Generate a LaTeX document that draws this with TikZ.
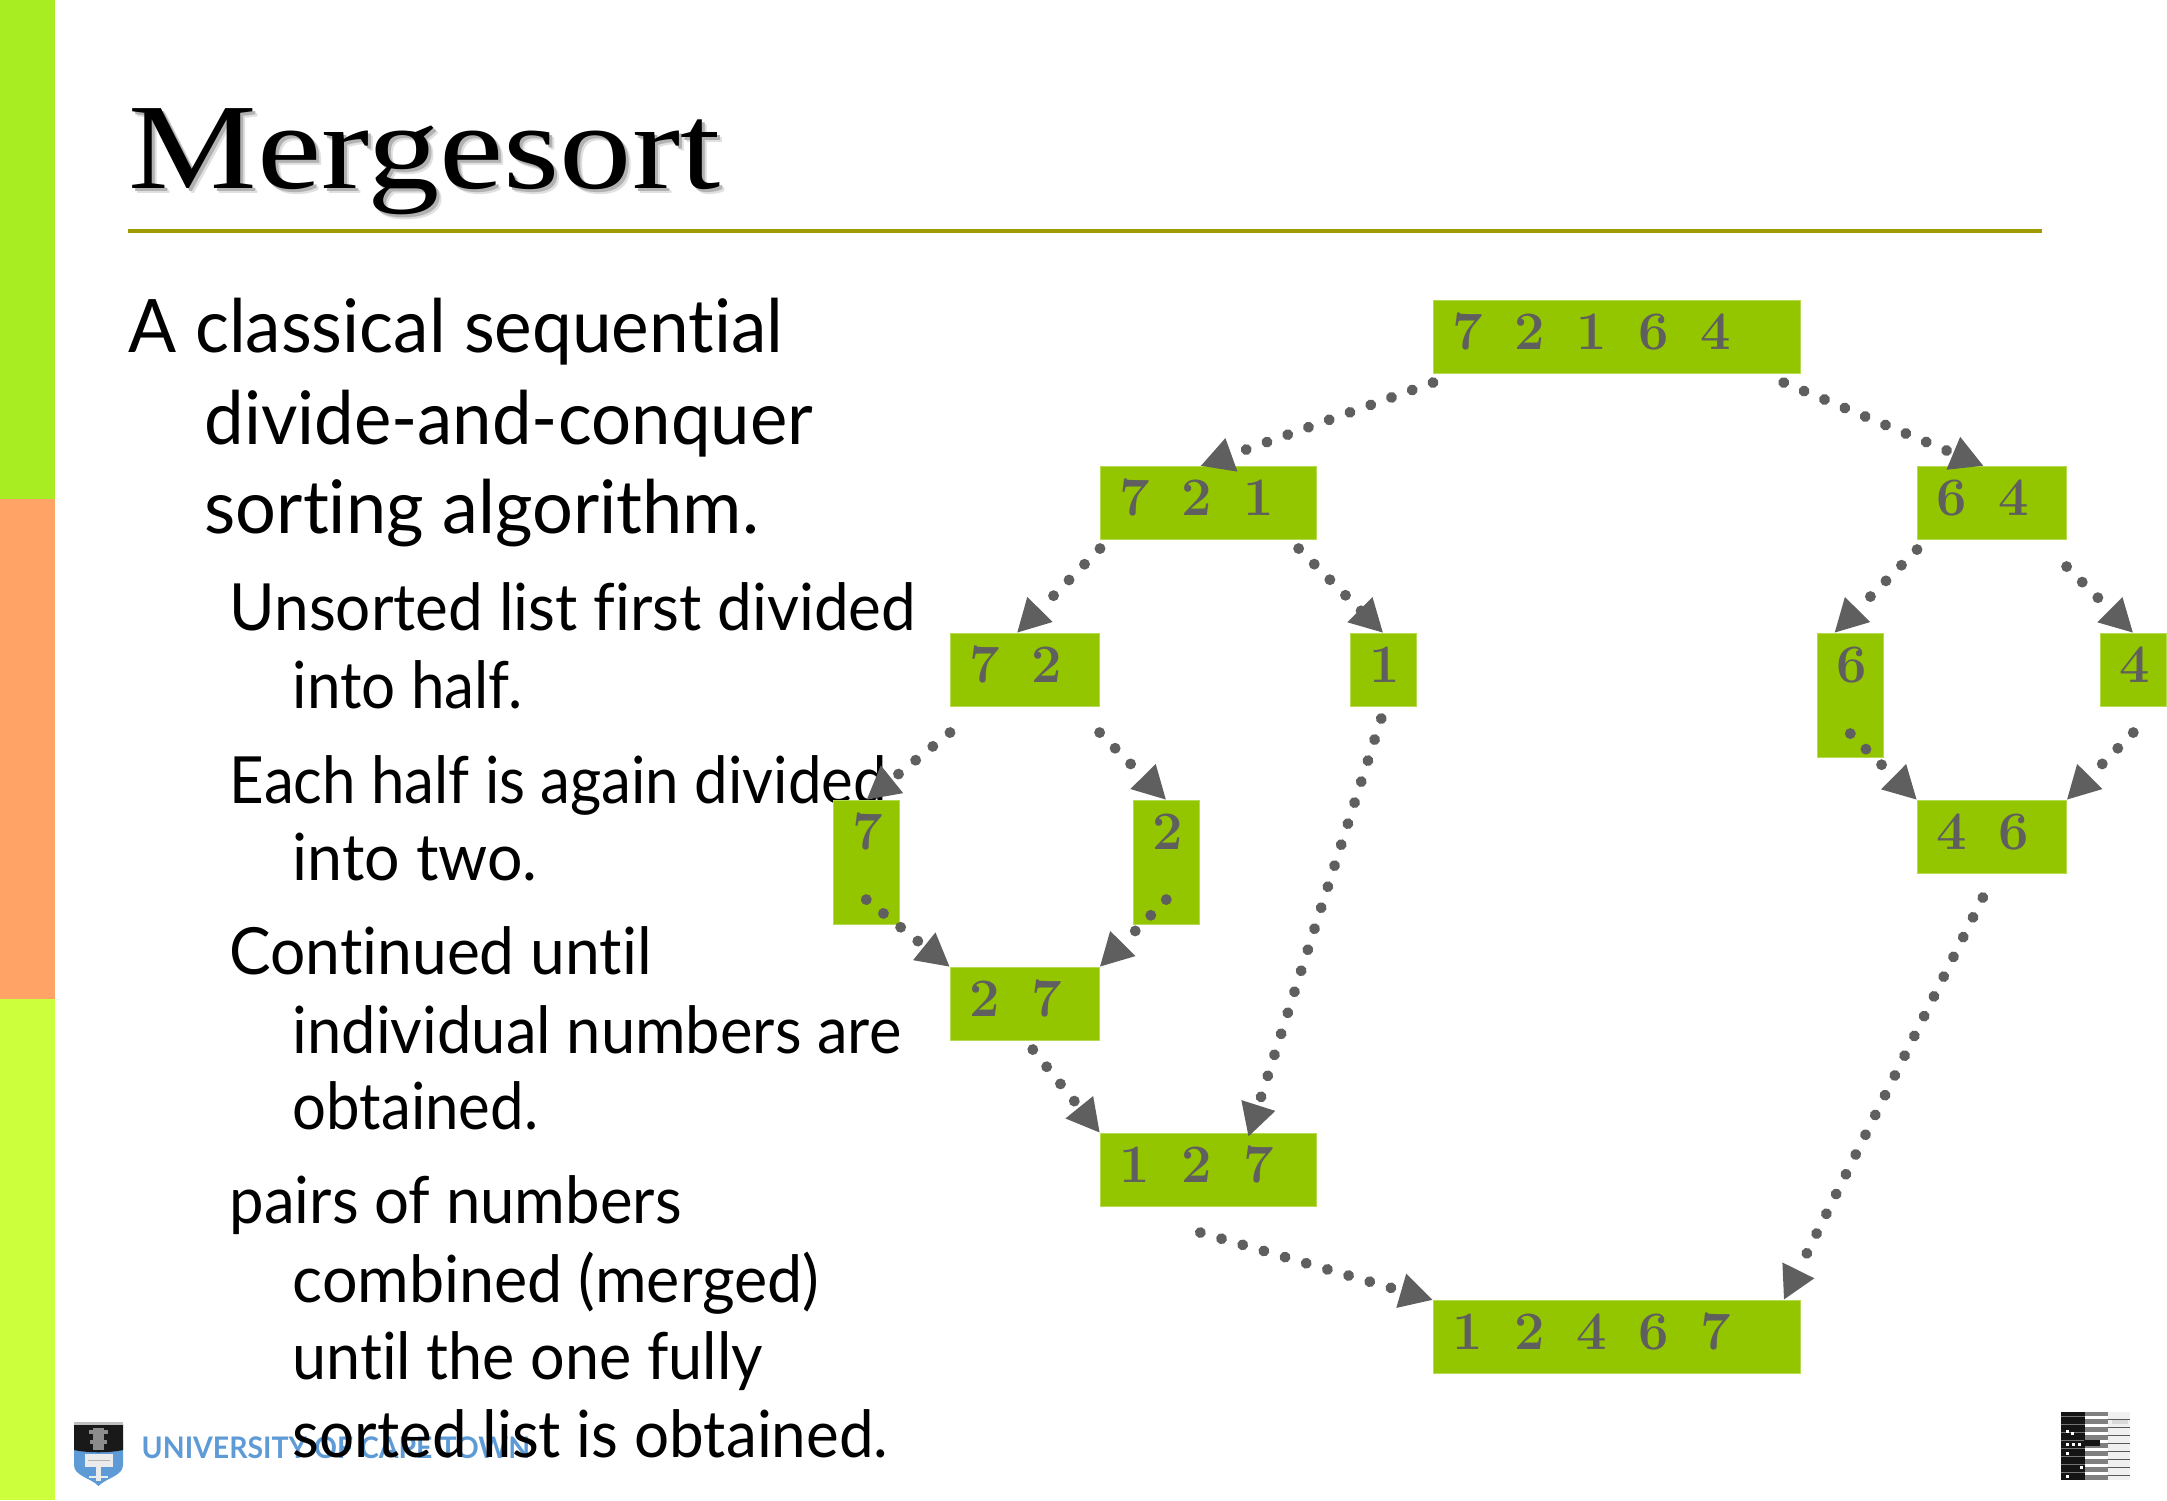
\documentclass[tikz,border=0pt]{standalone}
\usepackage{fontspec}
\usepackage{graphicx}
\usetikzlibrary{arrows.meta,calc}
\newfontfamily\titlefont[FakeStretch=1.185]{Liberation Serif}
\newfontfamily\bodyfont[FakeStretch=.957,Ligatures=NoCommon]{Lato}
\definecolor{barA}{HTML}{A8EC22}
\definecolor{barB}{HTML}{FFA466}
\definecolor{barC}{HTML}{CCFF3C}
\definecolor{boxgreen}{HTML}{94C600}
\definecolor{edgegreen}{HTML}{B5DC50}
\definecolor{ink}{HTML}{5F5F5F}
\definecolor{ruleol}{HTML}{A09B00}
\definecolor{uct}{HTML}{5E9BD6}
\newcommand\dgt[1]{\spaceskip=8.93pt\relax #1}
\newcommand\fitw[2]{\scalebox{#1}[1]{#2}}
\tikzset{
  numbox/.style={rectangle,anchor=north west,inner sep=0pt,outer sep=0pt,fill=boxgreen,draw=edgegreen,line width=.25pt},
  digittext/.style={anchor=base west,inner sep=0pt,text=ink,font=\fontsize{15.4}{18}\selectfont\bfseries\addfontfeature{FakeBold=1.2}},
  flow/.style={draw=ink,line width=3.1pt,line cap=round,dash pattern=on 0.01pt off 6.26pt,
    -{Triangle[length=9.4pt,width=9.4pt,fill=ink]}},
  lineA/.style={anchor=base west,inner sep=0pt,font=\bodyfont\fontsize{21}{25}\selectfont},
  lineB/.style={anchor=base west,inner sep=0pt,font=\bodyfont\fontsize{18.5}{22}\selectfont},
  titletext/.style={anchor=base west,inner sep=0pt,font=\titlefont\fontsize{34.7}{40}\selectfont},
}
\begin{document}
\begin{tikzpicture}[x=0.01cm,y=-0.01cm]
\useasboundingbox (0,0) rectangle (2167,1500);
% side bars and rule
\fill[barA] (0,0) rectangle (55,499);
\fill[barB] (0,499) rectangle (55,999);
\fill[barC] (0,999) rectangle (55,1500);
\fill[ruleol] (128,229) rectangle (2042,233);
% title
\node[titletext,text=black!12] (titleshadowb) at (133,194) {Mergesort};
\node[titletext,text=black!30] (titleshadow) at (131,192) {Mergesort};
\node[titletext] (title) at (128,189) {Mergesort};
% logo
\fill[uct] (74,1465) -- (74,1440) -- (123,1440) -- (123,1465) .. controls (123,1476) and (106,1478) .. (98.5,1486) .. controls (91,1478) and (74,1476) .. (74,1465) -- cycle;
\fill[black!90] (74,1424) -- (123,1424) -- (123,1450) .. controls (110,1453) and (87,1453) .. (74,1450) -- cycle;
\fill[black!25] (74,1422) rectangle (123,1425);
\fill[black!45] (93,1428) rectangle (104,1450);
\fill[black!45] (89,1430) rectangle (108,1434);
\fill[black!45] (90,1440) rectangle (107,1444);
\fill[black!8] (85,1454) rectangle (113,1467);
\fill[black!30] (88,1460) rectangle (110,1461);
\fill[black!8] (96,1467) rectangle (101,1481);
\fill[black!8] (89,1476) rectangle (108,1478);
\node[anchor=base west,inner sep=0pt,text=uct,font=\bodyfont\bfseries\fontsize{8.45}{10}\selectfont] (uctname) at (141,1458) {UNIVERSITY OF CAPE TOWN};
% seal bottom right
\fill[black!92] (2061,1412) rectangle (2085,1480);
\fill[black!50] (2085,1412) rectangle (2108,1480);
\fill[black!6] (2108,1412) rectangle (2130,1480);
\foreach \yy in {1416,1424,...,1476}{
  \fill[white] (2085,\yy) rectangle (2108,\yy+3);
  \fill[black!55] (2061,\yy) rectangle (2085,\yy+1);
  \fill[black!65] (2108,\yy+3) rectangle (2130,\yy+4);
}
\fill[black!92] (2084,1440) rectangle (2100,1446);
\fill[black!15] (2112,1420) rectangle (2128,1424);
\foreach \px/\py in {2066/1443,2071/1432,2066/1475,2066/1452,2072/1443,2078/1443,2066/1430,2080/1466}{
  \fill[white] (\px,\py) rectangle (\px+3,\py+3);
}
% body text
\node[lineA] (a1) at (128,352) {\fitw{1.006}{A classical sequential}};
\node[lineA] (a2) at (204,444) {divide-and-conquer};
\node[lineA] (a3) at (204,533) {\fitw{1.02}{sorting algorithm.}};
\node[lineB] (b1) at (229,630) {\fitw{.996}{Unsorted list first divided}};
\node[lineB] (b2) at (292,708) {\fitw{.965}{into half.}};
\node[lineB] (c1) at (229,803) {\fitw{.963}{Each half is again divided}};
\node[lineB] (c2) at (292,880) {\fitw{1.006}{into two.}};
\node[lineB] (d1) at (229,974) {Continued until};
\node[lineB] (d2) at (292,1053) {\fitw{.987}{individual numbers are}};
\node[lineB] (d3) at (292,1129) {\fitw{.962}{obtained.}};
\node[lineB] (e1) at (229,1223) {\fitw{.99}{pairs of numbers}};
\node[lineB] (e2) at (292,1302) {\fitw{1.008}{combined (merged)}};
\node[lineB] (e3) at (292,1379) {\fitw{.98}{until the one fully}};
\node[lineB] (e4) at (292,1457) {\fitw{.995}{sorted list is obtained.}};
% boxes
\node[numbox,minimum width=3.675cm,minimum height=.735cm] (n72164) at (1433,300) {};
\node[numbox,minimum width=2.165cm,minimum height=.735cm] (n721) at (1100,466) {};
\node[numbox,minimum width=1.495cm,minimum height=.735cm] (n64) at (1917,466) {};
\node[numbox,minimum width=1.495cm,minimum height=.735cm] (n72) at (950,633) {};
\node[numbox,minimum width=.665cm,minimum height=.735cm] (n1) at (1350,633) {};
\node[numbox,minimum width=.665cm,minimum height=1.245cm] (n6) at (1817,633) {};
\node[numbox,minimum width=.665cm,minimum height=.735cm] (n4) at (2100,633) {};
\node[numbox,minimum width=.665cm,minimum height=1.245cm] (n7) at (833,800) {};
\node[numbox,minimum width=.665cm,minimum height=1.245cm] (n2) at (1133,800) {};
\node[numbox,minimum width=1.495cm,minimum height=.735cm] (n46) at (1917,800) {};
\node[numbox,minimum width=1.495cm,minimum height=.735cm] (n27) at (950,967) {};
\node[numbox,minimum width=2.165cm,minimum height=.735cm] (n127) at (1100,1133) {};
\node[numbox,minimum width=3.675cm,minimum height=.735cm] (n12467) at (1433,1300) {};
% digits
\node[digittext] (t72164) at ($(n72164.north west)+(19,49)$) {\dgt{7 2 1 6 4}};
\node[digittext] (t721) at ($(n721.north west)+(19,49)$) {\dgt{7 2 1}};
\node[digittext] (t64) at ($(n64.north west)+(19,49)$) {\dgt{6 4}};
\node[digittext] (t72) at ($(n72.north west)+(19,49)$) {\dgt{7 2}};
\node[digittext] (t1) at ($(n1.north west)+(19,49)$) {1};
\node[digittext] (t6) at ($(n6.north west)+(19,49)$) {6};
\node[digittext] (t4) at ($(n4.north west)+(19,49)$) {4};
\node[digittext] (t7) at ($(n7.north west)+(19,49)$) {7};
\node[digittext] (t2) at ($(n2.north west)+(19,49)$) {2};
\node[digittext] (t46) at ($(n46.north west)+(19,49)$) {\dgt{4 6}};
\node[digittext] (t27) at ($(n27.north west)+(19,49)$) {\dgt{2 7}};
\node[digittext] (t127) at ($(n127.north west)+(19,49)$) {\dgt{1 2 7}};
\node[digittext] (t12467) at ($(n12467.north west)+(19,49)$) {\dgt{1 2 4 6 7}};
% connectors
\draw[flow] ($(n72164.south west)+(0,9)$) -- ($(n721.north)+(-8,0)$);
\draw[flow] ($(n72164.south east)+(-17,9)$) -- ($(n64.north)+(-8,0)$);
\draw[flow] ($(n721.south west)+(0,9)$) -- ($(n72.north)+(-8,0)$);
\draw[flow] ($(n721.south east)+(-18,9)$) -- (n1.north);
\draw[flow] ($(n64.south west)+(0,10)$) -- ($(n6.north)+(-16,0)$);
\draw[flow] ($(n64.south east)+(0,27)$) -- (n4.north);
\draw[flow] ($(n72.south west)+(0,26)$) -- (n7.north);
\draw[flow] ($(n72.south east)+(0,26)$) -- (n2.north);
\draw[flow] ($(n7.south)+(0,-25)$) -- (n27.north west);
\draw[flow] ($(n2.south)+(0,-25)$) -- (n27.north east);
\draw[flow] ($(n6.south)+(0,-24)$) -- (n46.north west);
\draw[flow] ($(n4.south)+(0,26)$) -- (n46.north east);
\draw[flow] ($(n1.south)+(-2,12)$) -- ($(n127.north)+(40,4)$);
\draw[flow] ($(n27.south)+(8,9)$) -- (n127.north west);
\draw[flow] ($(n46.south)+(-9,24)$) -- ($(n12467.north east)+(-17,0)$);
\draw[flow] ($(n127.south)+(-8,26)$) -- (n12467.north west);
\end{tikzpicture}
\end{document}
